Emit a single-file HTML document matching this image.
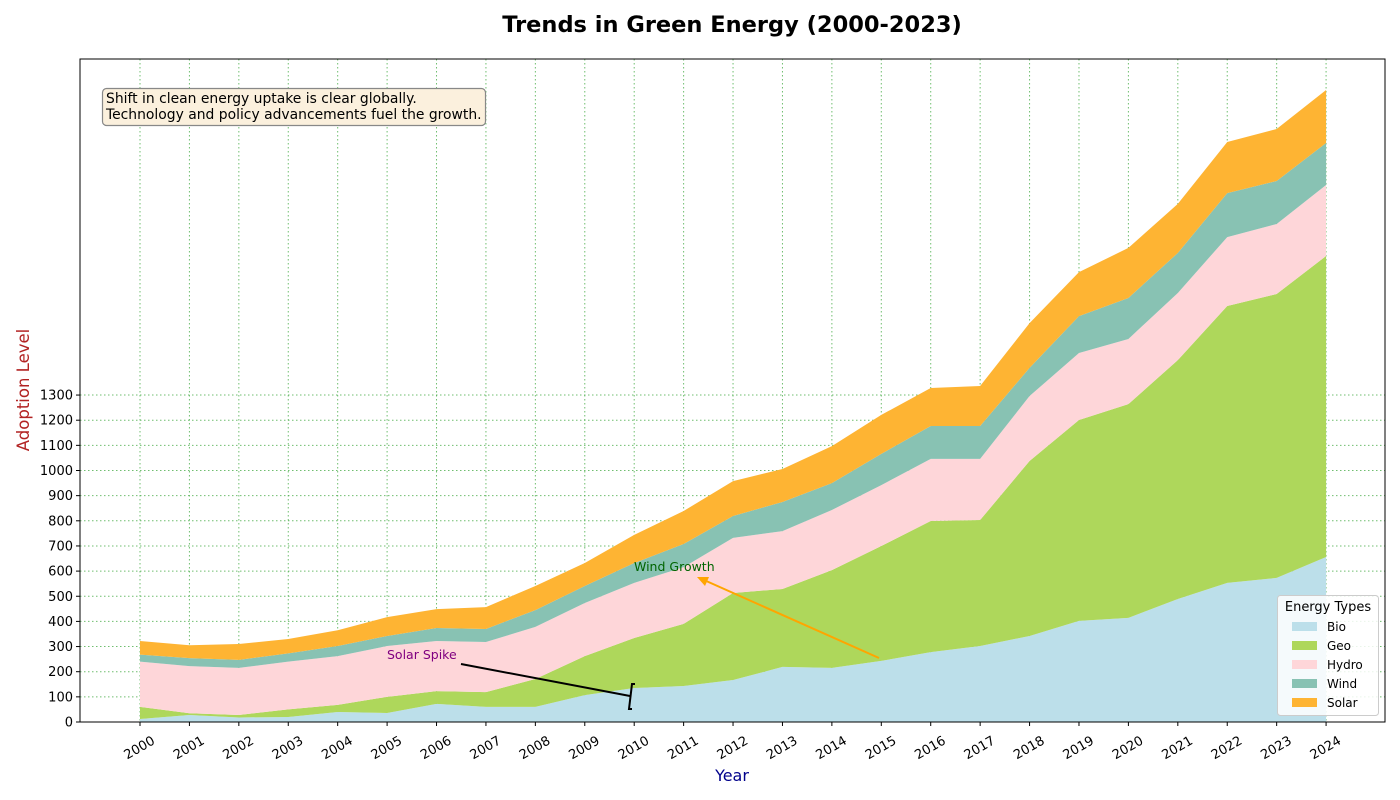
<!DOCTYPE html>
<html><head><meta charset="utf-8"><style>
body{margin:0;background:#fff;}
svg{display:block;font-family:"DejaVu Sans","Liberation Sans",sans-serif;}
</style></head><body>
<svg id="chart" width="1400" height="800">
<text x="732" y="32" text-anchor="middle" font-size="22.5" font-weight="bold">Trends in Green Energy (2000-2023)</text>
<g id="grid"></g><g id="areas"></g><g id="axes"></g>
<text x="732" y="781" text-anchor="middle" font-size="16" fill="#00008b">Year</text>
<text transform="translate(29,390) rotate(-90)" text-anchor="middle" font-size="16.5" fill="#b22222">Adoption Level</text>
<g>
<rect x="102.5" y="88.5" width="383" height="37" rx="4" fill="#fbf0dd" stroke="#888" stroke-width="1.2"/>
<text x="106" y="103" font-size="13.9">Shift in clean energy uptake is clear globally.</text>
<text x="106" y="119" font-size="13.9">Technology and policy advancements fuel the growth.</text>
</g>
<g>
<text x="634" y="571" font-size="12.5" fill="#006400">Wind Growth</text>
<line x1="879" y1="658" x2="704" y2="580" stroke="#ffa500" stroke-width="2"/>
<polygon points="697,577 709,577 705,586" fill="#ffa500"/>
</g>
<g>
<text x="387" y="659" font-size="12.5" fill="#800080">Solar Spike</text>
<line x1="461" y1="664" x2="630" y2="696" stroke="#000" stroke-width="2"/>
<path d="M635,684 L632,684 L629,709 L632,709" fill="none" stroke="#000" stroke-width="2"/>
</g>
<g>
<rect x="1277.5" y="595.5" width="101" height="120" rx="3" fill="#fff" fill-opacity="0.85" stroke="#ccc"/>
<text x="1328" y="611" text-anchor="middle" font-size="13">Energy Types</text>
<g id="legend-items"></g>
</g>
</svg>
<script>
const years=[2000,2001,2002,2003,2004,2005,2006,2007,2008,2009,2010,2011,2012,2013,2014,2015,2016,2017,2018,2019,2020,2021,2022,2023,2024];
const seriesNames=["Bio","Geo","Hydro","Wind","Solar"];
const bio=[12,28,18,20,40,36,72,60,60,107,135,143,167,219,215,243,278,302,342,402,414,489,553,573,656];
const geo=[48,7,10,30,28,64,51,59,111,155,199,247,346,310,389,457,521,501,696,799,850,950,1101,1129,1197];
const hydro=[180,187,187,190,194,202,199,199,207,211,219,226,219,230,239,242,247,243,258,266,259,267,274,278,282];
const wind=[28,32,32,33,40,40,52,52,67,68,79,92,87,116,107,124,131,131,112,147,163,159,175,171,167];
const solar=[54,51,63,57,63,75,75,87,96,91,112,131,139,131,147,155,151,159,178,175,199,195,203,207,211];
const yTicks=[0,100,200,300,400,500,600,700,800,900,1000,1100,1200,1300];
const colors=["#bcdfea","#aed75b","#fed6d9","#88c2b3","#feb433"];
const NS="http://www.w3.org/2000/svg";
const L=80,R=1385,T=59,B=722;
const X=y=>140+(y-2000)*49.42;
const Y=v=>B-v*0.2515;
function mk(tag,at,parent){const e=document.createElementNS(NS,tag);for(const k in at)e.setAttribute(k,at[k]);parent.appendChild(e);return e;}
const grid=document.getElementById('grid'),areas=document.getElementById('areas'),axes=document.getElementById('axes');
years.forEach(y=>{const l=mk('line',{x1:X(y),x2:X(y),y1:T,y2:B,stroke:'#3fa83f','stroke-opacity':0.75,'stroke-dasharray':'1.5,2.5'},grid);

});
yTicks.forEach(v=>{const l=mk('line',{x1:L,x2:R,y1:Y(v),y2:Y(v),stroke:'#3fa83f','stroke-opacity':0.75,'stroke-dasharray':'1.5,2.5'},grid);

});
const data=[bio,geo,hydro,wind,solar];
let base=years.map(()=>0);
data.forEach((s,i)=>{const top=base.map((b,j)=>b+s[j]);
let d='M'+years.map((y,j)=>X(y)+','+Y(top[j])).join(' L');
for(let j=years.length-1;j>=0;j--)d+=' L'+X(years[j])+','+Y(base[j]);
const p=mk('path',{d:d+'Z',fill:colors[i]},areas);


base=top;});
mk('rect',{x:L,y:T,width:R-L,height:B-T,fill:'none',stroke:'#000','stroke-width':1},axes);
years.forEach(y=>{mk('line',{x1:X(y),x2:X(y),y1:B,y2:B+4,stroke:'#000'},axes);
const cx=X(y)-1,cy=B+30;
const t=mk('text',{x:cx,y:cy,'font-size':13,'text-anchor':'middle',transform:`rotate(-30 ${cx} ${cy-5})`},axes);t.textContent=y;

});
yTicks.forEach(v=>{mk('line',{x1:L-4,x2:L,y1:Y(v),y2:Y(v),stroke:'#000'},axes);
const t=mk('text',{x:L-7,y:Y(v)+4.5,'font-size':13,'text-anchor':'end'},axes);t.textContent=v;

});
const li=document.getElementById('legend-items');
seriesNames.forEach((n,i)=>{const g=mk('g',{},li);


mk('rect',{x:1292,y:622+i*19,width:25,height:9,fill:colors[i]},g);
const t=mk('text',{x:1327,y:631+i*19,'font-size':12},g);t.textContent=n;});
</script>
</body></html>
